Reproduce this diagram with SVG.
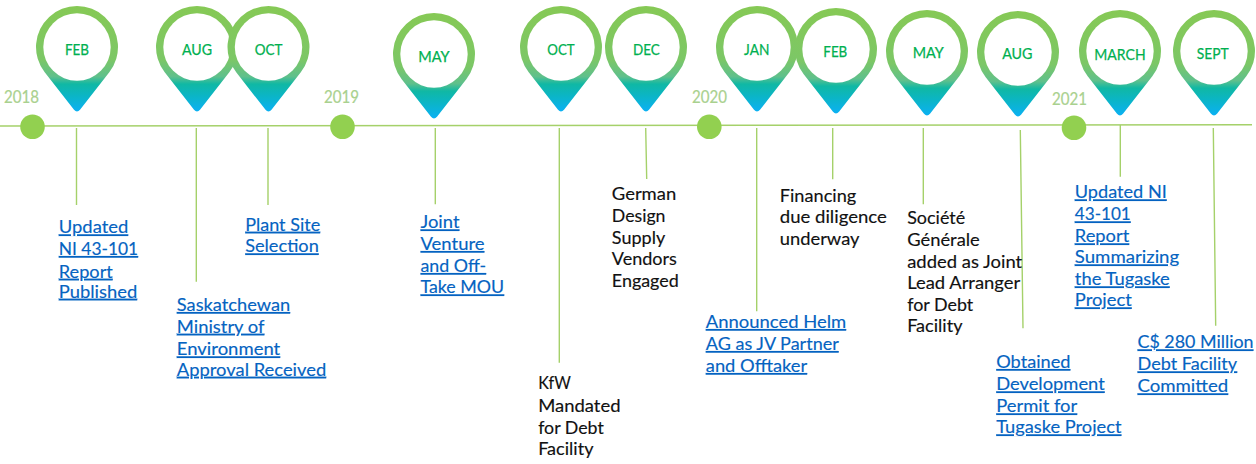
<svg xmlns="http://www.w3.org/2000/svg" width="1256" height="464" viewBox="0 0 1256 464">
<style>
text{font-family:Lato,"Liberation Sans",sans-serif}
.m{font-size:15.5px;fill:#00b050;stroke:#00b050;stroke-width:.25;text-anchor:middle}
.y{font-size:16.5px;fill:#a9d18e;stroke:#a9d18e;stroke-width:.2}
.t{font-size:17px;fill:#111;stroke:#111;stroke-width:.15;transform:translateX(-.5px)}
.l{font-size:17px;fill:#0563c1;stroke:#0563c1;stroke-width:.15;text-decoration:underline;transform:translateX(-.5px)}
.s{stroke:#a5d16a;stroke-width:1.4;fill:none}
.d{fill:#92d050}
</style>
<defs>
<linearGradient id="g" gradientUnits="userSpaceOnUse" x1="0" y1="-41" x2="0" y2="66">
<stop offset="0" stop-color="#86c955"/><stop offset=".5" stop-color="#7cc766"/><stop offset=".66" stop-color="#5fc08c"/><stop offset=".73" stop-color="#10b8a4"/><stop offset=".84" stop-color="#0bb5c6"/><stop offset="1" stop-color="#0bb0f8"/>
</linearGradient>
<g id="pin">
<path d="M-32.3,25.3A41,41 0 1 1 32.3,25.3L3,62.8Q0,66.3 -3,62.8Z" fill="url(#g)"/>
<circle r="33.7" fill="#fff"/>
</g>
</defs>
<rect width="1256" height="464" fill="#fff"/>
<g id="connectors">
<path class="s" d="M0,126L1252,124.7"/>
<path class="s" d="M76.5,128V205M196.3,128V281.7M268,128V205M435.3,128V204.3M559.3,128V362.7M645.7,128L646.7,179M756.7,128V311.3M832.7,128V179.3M923.3,128V204.3M1020.3,130L1023,328.3M1120.3,125V176.7M1213.3,128L1215.7,325.7"/>
</g>
<g id="year-2018"><circle class="d" cx="32.5" cy="126.7" r="12.3"/><text class="y" x="4" y="103" textLength="35" lengthAdjust="spacingAndGlyphs">2018</text></g>
<g id="year-2019"><circle class="d" cx="342.5" cy="126.7" r="12.3"/><text class="y" x="324" y="103" textLength="35" lengthAdjust="spacingAndGlyphs">2019</text></g>
<g id="year-2020"><circle class="d" cx="709.3" cy="126.7" r="12.3"/><text class="y" x="692" y="103" textLength="35" lengthAdjust="spacingAndGlyphs">2020</text></g>
<g id="year-2021"><circle class="d" cx="1074" cy="127.7" r="12.3"/><text class="y" x="1052" y="104.7" textLength="35" lengthAdjust="spacingAndGlyphs">2021</text></g>
<g id="pin-feb-2018"><use href="#pin" transform="translate(77,47)"/><text class="m" x="77" y="55" textLength="24" lengthAdjust="spacingAndGlyphs">FEB</text></g>
<g id="pin-aug-2018"><use href="#pin" transform="translate(197,47)"/><text class="m" x="197" y="55" textLength="30" lengthAdjust="spacingAndGlyphs">AUG</text></g>
<g id="pin-oct-2018"><use href="#pin" transform="translate(268.5,47)"/><text class="m" x="268.7" y="55" textLength="27.7" lengthAdjust="spacingAndGlyphs">OCT</text></g>
<g id="pin-may-2019"><use href="#pin" transform="translate(434,54)"/><text class="m" x="434" y="61.7" textLength="31.3" lengthAdjust="spacingAndGlyphs">MAY</text></g>
<g id="pin-oct-2019"><use href="#pin" transform="translate(561,47)"/><text class="m" x="561" y="55" textLength="27.3" lengthAdjust="spacingAndGlyphs">OCT</text></g>
<g id="pin-dec-2019"><use href="#pin" transform="translate(646,47)"/><text class="m" x="646.3" y="55" textLength="26.7" lengthAdjust="spacingAndGlyphs">DEC</text></g>
<g id="pin-jan-2020"><use href="#pin" transform="translate(757,47)"/><text class="m" x="756.7" y="55" textLength="25.3" lengthAdjust="spacingAndGlyphs">JAN</text></g>
<g id="pin-feb-2020"><use href="#pin" transform="translate(836,49)"/><text class="m" x="835.3" y="57.3" textLength="24" lengthAdjust="spacingAndGlyphs">FEB</text></g>
<g id="pin-may-2020"><use href="#pin" transform="translate(927,51)"/><text class="m" x="928.3" y="58.3" textLength="31" lengthAdjust="spacingAndGlyphs">MAY</text></g>
<g id="pin-aug-2020"><use href="#pin" transform="translate(1018,52)"/><text class="m" x="1017.3" y="59.3" textLength="30.3" lengthAdjust="spacingAndGlyphs">AUG</text></g>
<g id="pin-march-2021"><use href="#pin" transform="translate(1120,51)"/><text class="m" x="1120" y="60.3" textLength="51.3" lengthAdjust="spacingAndGlyphs">MARCH</text></g>
<g id="pin-sept-2021"><use href="#pin" transform="translate(1214,51)"/><text class="m" x="1212.7" y="59.3" textLength="32" lengthAdjust="spacingAndGlyphs">SEPT</text></g>
<g id="label-1">
<text class="l" x="59.3" y="233.3" textLength="69.4" lengthAdjust="spacingAndGlyphs">Updated</text>
<text class="l" x="59.3" y="255" textLength="79.4" lengthAdjust="spacingAndGlyphs">NI 43-101</text>
<text class="l" x="59.3" y="277.7" textLength="54" lengthAdjust="spacingAndGlyphs">Report</text>
<text class="l" x="59.3" y="297.7" textLength="78.4" lengthAdjust="spacingAndGlyphs">Published</text>
</g>
<g id="label-2">
<text class="l" x="177.3" y="311" textLength="113.4" lengthAdjust="spacingAndGlyphs">Saskatchewan</text>
<text class="l" x="177.3" y="332.7" textLength="87.7" lengthAdjust="spacingAndGlyphs">Ministry of</text>
<text class="l" x="177.3" y="355.3" textLength="103.4" lengthAdjust="spacingAndGlyphs">Environment</text>
<text class="l" x="177.3" y="375.7" textLength="149.4" lengthAdjust="spacingAndGlyphs">Approval Received</text>
</g>
<g id="label-3">
<text class="l" x="245.7" y="230.7" textLength="75" lengthAdjust="spacingAndGlyphs">Plant Site</text>
<text class="l" x="245.7" y="252.3" textLength="73.6" lengthAdjust="spacingAndGlyphs">Selection</text>
</g>
<g id="label-4">
<text class="l" x="421" y="228.3" textLength="39" lengthAdjust="spacingAndGlyphs">Joint</text>
<text class="l" x="421" y="250" textLength="64" lengthAdjust="spacingAndGlyphs">Venture</text>
<text class="l" x="421" y="272" textLength="65.7" lengthAdjust="spacingAndGlyphs">and Off-</text>
<text class="l" x="421" y="293.3" textLength="83.7" lengthAdjust="spacingAndGlyphs">Take MOU</text>
</g>
<g id="label-5">
<text class="t" x="538.7" y="389.3" textLength="32.6" lengthAdjust="spacingAndGlyphs">KfW</text>
<text class="t" x="538.7" y="411.7" textLength="82.3" lengthAdjust="spacingAndGlyphs">Mandated</text>
<text class="t" x="538.7" y="433.7" textLength="65.6" lengthAdjust="spacingAndGlyphs">for Debt</text>
<text class="t" x="538.7" y="454.7" textLength="55.3" lengthAdjust="spacingAndGlyphs">Facility</text>
</g>
<g id="label-6">
<text class="t" x="612.3" y="200" textLength="64.4" lengthAdjust="spacingAndGlyphs">German</text>
<text class="t" x="612.3" y="222.3" textLength="53.7" lengthAdjust="spacingAndGlyphs">Design</text>
<text class="t" x="612.3" y="244" textLength="53.4" lengthAdjust="spacingAndGlyphs">Supply</text>
<text class="t" x="612.3" y="265" textLength="65" lengthAdjust="spacingAndGlyphs">Vendors</text>
<text class="t" x="612.3" y="286.7" textLength="67" lengthAdjust="spacingAndGlyphs">Engaged</text>
</g>
<g id="label-7">
<text class="l" x="706.3" y="328" textLength="140.4" lengthAdjust="spacingAndGlyphs">Announced Helm</text>
<text class="l" x="706.3" y="350" textLength="133" lengthAdjust="spacingAndGlyphs">AG as JV Partner</text>
<text class="l" x="706.3" y="372" textLength="101.4" lengthAdjust="spacingAndGlyphs">and Offtaker</text>
</g>
<g id="label-8">
<text class="t" x="780.3" y="201.7" textLength="76.4" lengthAdjust="spacingAndGlyphs">Financing</text>
<text class="t" x="780.3" y="223.3" textLength="107" lengthAdjust="spacingAndGlyphs">due diligence</text>
<text class="t" x="780.3" y="245" textLength="79.7" lengthAdjust="spacingAndGlyphs">underway</text>
</g>
<g id="label-9">
<text class="t" x="907.7" y="224" textLength="58" lengthAdjust="spacingAndGlyphs">Société</text>
<text class="t" x="907.7" y="246" textLength="72.6" lengthAdjust="spacingAndGlyphs">Générale</text>
<text class="t" x="907.7" y="267.7" textLength="115" lengthAdjust="spacingAndGlyphs">added as Joint</text>
<text class="t" x="907.7" y="289" textLength="113" lengthAdjust="spacingAndGlyphs">Lead Arranger</text>
<text class="t" x="907.7" y="311" textLength="66" lengthAdjust="spacingAndGlyphs">for Debt</text>
<text class="t" x="907.7" y="332.3" textLength="55.3" lengthAdjust="spacingAndGlyphs">Facility</text>
</g>
<g id="label-10">
<text class="l" x="996.7" y="368" textLength="74.3" lengthAdjust="spacingAndGlyphs">Obtained</text>
<text class="l" x="996.7" y="390.3" textLength="108.6" lengthAdjust="spacingAndGlyphs">Development</text>
<text class="l" x="996.7" y="412.3" textLength="81" lengthAdjust="spacingAndGlyphs">Permit for</text>
<text class="l" x="996.7" y="433.3" textLength="125.3" lengthAdjust="spacingAndGlyphs">Tugaske Project</text>
</g>
<g id="label-11">
<text class="l" x="1075.3" y="198.3" textLength="92" lengthAdjust="spacingAndGlyphs">Updated NI</text>
<text class="l" x="1075.3" y="220.3" textLength="56" lengthAdjust="spacingAndGlyphs">43-101</text>
<text class="l" x="1075.3" y="242.3" textLength="54.4" lengthAdjust="spacingAndGlyphs">Report</text>
<text class="l" x="1075.3" y="263.3" textLength="104.4" lengthAdjust="spacingAndGlyphs">Summarizing</text>
<text class="l" x="1075.3" y="285.3" textLength="95" lengthAdjust="spacingAndGlyphs">the Tugaske</text>
<text class="l" x="1075.3" y="306.3" textLength="57" lengthAdjust="spacingAndGlyphs">Project</text>
</g>
<g id="label-12">
<text class="l" x="1138" y="348.3" textLength="116" lengthAdjust="spacingAndGlyphs">C$ 280 Million</text>
<text class="l" x="1138" y="370.3" textLength="99.7" lengthAdjust="spacingAndGlyphs">Debt Facility</text>
<text class="l" x="1138" y="392.3" textLength="90.7" lengthAdjust="spacingAndGlyphs">Committed</text>
</g>
</svg>
